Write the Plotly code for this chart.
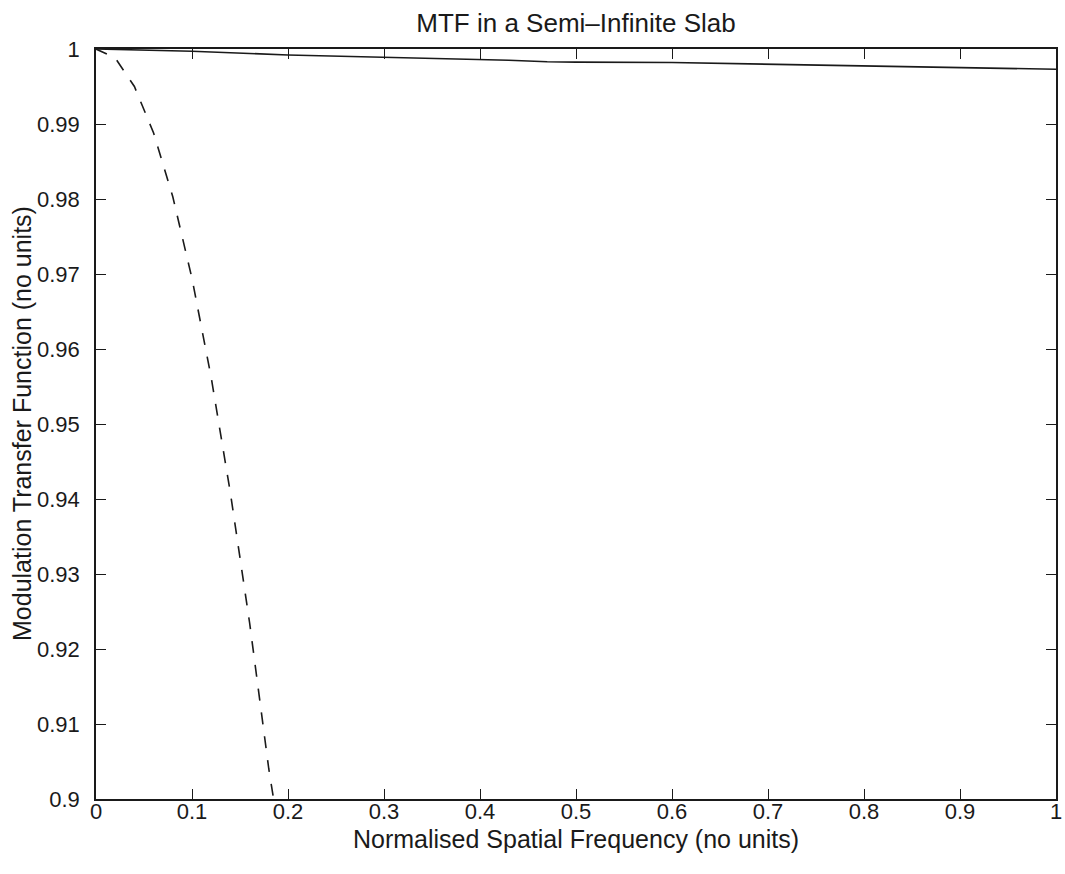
import plotly.graph_objects as go

# Solid curve
solid_x = [0.0, 0.05, 0.1, 0.2, 0.3, 0.4, 0.43, 0.47, 0.5, 0.6, 0.7, 0.8, 0.9, 1.0]
solid_y = [1.0, 0.99985, 0.9997, 0.9992, 0.9989, 0.99867, 0.9985, 0.9983, 0.99825, 0.9982, 0.9980, 0.9978, 0.99757, 0.9973]

# Dashed curve
dash_x = [0.0, 0.02, 0.04, 0.06, 0.08, 0.10, 0.12, 0.14, 0.16, 0.18, 0.185]
dash_y = [1.0, 0.9988, 0.9950, 0.9888, 0.9803, 0.9694, 0.9562, 0.9408, 0.9235, 0.9040, 0.9000]

x_ticks = [0, 0.1, 0.2, 0.3, 0.4, 0.5, 0.6, 0.7, 0.8, 0.9, 1]
x_tick_text = ["0", "0.1", "0.2", "0.3", "0.4", "0.5", "0.6", "0.7", "0.8", "0.9", "1"]
y_ticks = [0.9, 0.91, 0.92, 0.93, 0.94, 0.95, 0.96, 0.97, 0.98, 0.99, 1.0]
y_tick_text = ["0.9", "0.91", "0.92", "0.93", "0.94", "0.95", "0.96", "0.97", "0.98", "0.99", "1"]

title_text = "MTF in a Semi\u2013Infinite Slab"
x_title = "Normalised Spatial Frequency (no units)"
y_title = "Modulation Transfer Function (no units)"

FONT = "Liberation Sans, Arial, Helvetica, sans-serif"
INK = "#1a1a1a"
W, H = 1065, 874
ML, MR, MT, MB = 96, 9, 49, 75
PW, PH = W - ML - MR, H - MT - MB

fig = go.Figure()
fig.add_trace(go.Scatter(x=solid_x, y=solid_y, mode="lines",
                         line=dict(color=INK, width=1.6), showlegend=False))
fig.add_trace(go.Scatter(x=dash_x, y=dash_y, mode="lines",
                         line=dict(color=INK, width=1.6, dash="12px,12px"),
                         showlegend=False, cliponaxis=True))

axis_common = dict(
    showgrid=False, zeroline=False, showline=True, linecolor=INK, linewidth=1.6,
    mirror="ticks", ticks="inside", ticklen=10, tickwidth=1.4, tickcolor=INK,
    tickfont=dict(family=FONT, size=22, color=INK), automargin=False,
)

fig.update_layout(
    width=W, height=H,
    margin=dict(l=ML, r=MR, t=MT, b=MB),
    paper_bgcolor="white", plot_bgcolor="white",
    font=dict(family=FONT, color=INK),
    title=dict(text=title_text, x=(ML + PW / 2) / W, xanchor="center", y=1 - 23 / H,
               yref="container", yanchor="middle",
               font=dict(family=FONT, size=26, color=INK)),
    xaxis=dict(range=[0, 1], tickvals=x_ticks, ticktext=x_tick_text,
               ticklabelstandoff=-8, **axis_common),
    yaxis=dict(range=[0.9, 1.0], tickvals=y_ticks, ticktext=y_tick_text,
               ticklabelstandoff=10, **axis_common),
    annotations=[
        dict(text=x_title, xref="paper", yref="paper", x=0.5, y=-(839 - MT - PH) / PH,
             xanchor="center", yanchor="middle", showarrow=False,
             font=dict(family=FONT, size=25, color=INK)),
        dict(text=y_title, xref="paper", yref="paper", x=-(ML - 22) / PW, y=0.5,
             xanchor="center", yanchor="middle", showarrow=False, textangle=-90,
             font=dict(family=FONT, size=25, color=INK)),
    ],
)

fig.write_html("out.html", config={"displayModeBar": False},
               post_script="document.body.style.margin='0px';document.body.style.overflow='hidden';")
